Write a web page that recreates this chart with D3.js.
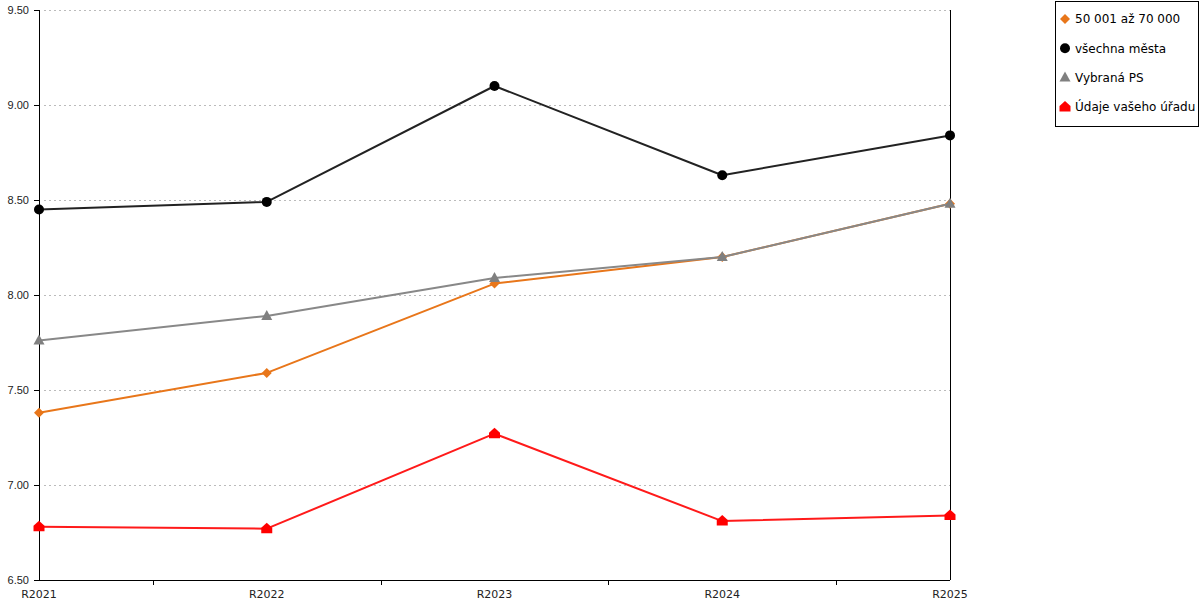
<!DOCTYPE html>
<html>
<head>
<meta charset="utf-8">
<style>
body { margin: 0; background: #fff; }
svg { font-family: "DejaVu Sans", Verdana, sans-serif; }
.axis path, .axis line { stroke: #000; shape-rendering: crispEdges; }
.axis text { font-size: 11px; fill: #222; }
.grid line { stroke: #bbb; stroke-dasharray: 2,3; shape-rendering: crispEdges; }
.series { fill: none; stroke-width: 2px; stroke-linejoin: round; }
.legend text { font-size: 12px; fill: #000; }
</style>
<script src="https://cdn.jsdelivr.net/npm/d3@7"></script>
</head>
<body>
<svg width="1200" height="600"></svg>
<script>

var categories = ["R2021", "R2022", "R2023", "R2024", "R2025"];
var yTicks = [6.5, 7.0, 7.5, 8.0, 8.5, 9.0, 9.5];

var seriesNames = ["50 001 až 70 000", "všechna města", "Vybraná PS", "Údaje vašeho úřadu"];
var orangeVals = [7.38, 7.59, 8.06, 8.20, 8.48];
var blackVals  = [8.45, 8.49, 9.10, 8.63, 8.84];
var grayVals   = [7.76, 7.89, 8.09, 8.20, 8.48];
var redVals    = [6.78, 6.77, 7.27, 6.81, 6.84];

var colors = ["#e8761a", "#222222", "#888888", "#ff1a1a"];
var markerFill = ["#e8761a", "#000000", "#808080", "#ff0000"];
var shapes = ["diamond", "circle", "triangle", "house"];

var series = [orangeVals, blackVals, grayVals, redVals].map(function(v, i) {
  return { name: seriesNames[i], values: v, color: colors[i], fill: markerFill[i], shape: shapes[i] };
});

var svg = d3.select("svg"),
    margin = {top: 10, left: 39, right: 250, bottom: 20},
    width = 950 - margin.left,
    height = 580 - margin.top,
    g = svg.append("g").attr("transform", "translate(" + margin.left + "," + margin.top + ")");

var x = d3.scalePoint().domain(categories).range([0, width]);
var y = d3.scaleLinear().domain([6.5, 9.5]).range([height, 0]);

// grid
g.append("g").attr("class", "grid")
  .selectAll("line")
  .data(yTicks.slice(1))
  .enter().append("line")
    .attr("x1", 5).attr("x2", width)
    .attr("y1", function(d) { return Math.round(y(d)) + 0.5; })
    .attr("y2", function(d) { return Math.round(y(d)) + 0.5; });

// y axis
var yAxis = g.append("g").attr("class", "axis")
  .call(d3.axisLeft(y).tickValues(yTicks).tickFormat(d3.format(".2f")).tickSize(5).tickPadding(5));
yAxis.select(".domain").attr("d", "M0.5," + height + "V0");

// x axis with ticks between categories
var step = x.step();
var midTicks = categories.slice(1).map(function(c) { return x(c) - step / 2; });
var xAxis = g.append("g").attr("class", "axis")
  .attr("transform", "translate(0," + height + ")");
xAxis.append("path").attr("d", "M0,0.5H" + width);
xAxis.selectAll("line.tick").data(midTicks).enter().append("line")
  .attr("x1", function(d) { return Math.round(d) + 0.5; })
  .attr("x2", function(d) { return Math.round(d) + 0.5; })
  .attr("y1", 0).attr("y2", 5);
xAxis.selectAll("text").data(categories).enter().append("text")
  .attr("x", function(d) { return x(d); })
  .attr("y", 18)
  .attr("text-anchor", "middle")
  .text(function(d) { return d; });

// right vertical line at last category
g.append("line")
  .attr("x1", width + 0.5).attr("x2", width + 0.5)
  .attr("y1", 0).attr("y2", height)
  .attr("stroke", "#000").style("shape-rendering", "crispEdges");

var line = d3.line()
  .x(function(d, i) { return x(categories[i]); })
  .y(function(d) { return y(d); });

function markerPath(shape) {
  if (shape === "diamond") return "M0,-5L5,0L0,5L-5,0Z";
  if (shape === "circle") return "M5,0A5,5 0 1,1 -5,0A5,5 0 1,1 5,0Z";
  if (shape === "triangle") return "M0,-6L5.5,4L-5.5,4Z";
  return "M0,-6L5.5,-1V4.5H-5.5V-1Z";
}

series.forEach(function(s) {
  g.append("path")
    .attr("class", "series")
    .attr("stroke", s.color)
    .attr("d", line(s.values));
  g.append("g").selectAll("path")
    .data(s.values)
    .enter().append("path")
      .attr("transform", function(d, i) { return "translate(" + x(categories[i]) + "," + y(d) + ")"; })
      .attr("d", markerPath(s.shape))
      .attr("fill", s.fill);
});

// legend
var legend = svg.append("g").attr("class", "legend");
legend.append("rect")
  .attr("x", 1055.5).attr("y", 1.5).attr("width", 143).attr("height", 125)
  .attr("fill", "#fff").attr("stroke", "#000");
var items = legend.selectAll("g.item").data(series).enter().append("g")
  .attr("transform", function(d, i) { return "translate(1065," + (19 + i * 29.3) + ")"; });
items.append("path")
  .attr("d", function(d) { return markerPath(d.shape); })
  .attr("fill", function(d) { return d.fill; });
items.append("text")
  .attr("x", 10).attr("dy", "0.35em")
  .text(function(d) { return d.name; });

</script>
</body>
</html>
